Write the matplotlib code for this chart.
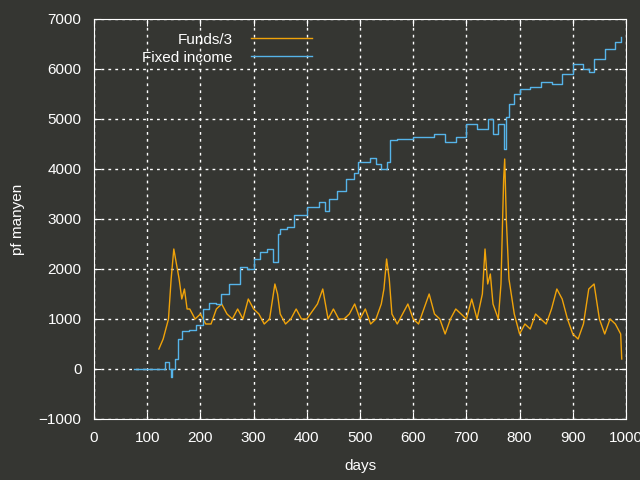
import matplotlib
matplotlib.use("Agg")
import matplotlib.pyplot as plt

fi_days = [75, 122, 133, 141, 144, 147, 152, 157, 166, 179, 191, 204, 216, 229, 238, 254, 274, 287, 300, 312, 325, 337, 345, 350, 362, 375, 400, 422, 435, 441, 457, 473, 488, 497, 519, 530, 540, 550, 556, 570, 600, 620, 640, 660, 680, 700, 720, 740, 750, 760, 770, 775, 780, 790, 800, 820, 840, 860, 880, 900, 920, 930, 940, 960, 980, 990]
fi_vals = [0, 0, 150, 0, -150, 0, 200, 600, 770, 780, 880, 1200, 1320, 1300, 1500, 1700, 2050, 2000, 2200, 2350, 2400, 2140, 2700, 2800, 2850, 3080, 3250, 3350, 3170, 3400, 3560, 3800, 3920, 4140, 4230, 4100, 4000, 4150, 4580, 4600, 4650, 4650, 4700, 4550, 4650, 4900, 4800, 5000, 4700, 4900, 4400, 5050, 5300, 5500, 5600, 5650, 5750, 5700, 5900, 6100, 6000, 5950, 6200, 6400, 6550, 6650]

fd_days = [122, 130, 140, 145, 150, 155, 160, 165, 170, 175, 180, 190, 200, 210, 220, 230, 240, 250, 260, 270, 280, 290, 300, 310, 320, 330, 340, 345, 350, 360, 370, 380, 390, 400, 420, 430, 440, 450, 460, 470, 480, 490, 500, 510, 520, 530, 540, 545, 550, 555, 560, 570, 580, 590, 600, 610, 620, 630, 640, 650, 660, 670, 680, 690, 700, 710, 720, 730, 735, 740, 745, 750, 760, 765, 770, 772, 775, 780, 790, 800, 810, 820, 830, 840, 850, 860, 870, 880, 890, 900, 910, 920, 930, 940, 950, 960, 970, 980, 990, 992]
fd_vals = [400, 600, 1000, 1800, 2400, 2100, 1800, 1400, 1600, 1200, 1200, 1000, 1100, 900, 900, 1200, 1300, 1100, 1000, 1200, 1000, 1400, 1200, 1100, 900, 1000, 1700, 1500, 1100, 900, 1000, 1200, 1000, 1000, 1300, 1600, 1000, 1200, 1000, 1000, 1100, 1300, 1000, 1200, 900, 1000, 1300, 1600, 2200, 1800, 1100, 900, 1100, 1300, 1000, 900, 1200, 1500, 1100, 1000, 700, 1000, 1200, 1100, 1000, 1400, 1000, 1500, 2400, 1700, 1900, 1300, 1000, 1700, 3800, 4200, 3000, 1800, 1100, 700, 900, 800, 1100, 1000, 900, 1200, 1600, 1400, 1000, 700, 600, 900, 1600, 1700, 1000, 700, 1000, 900, 700, 200]

bg = "#353632"
plt.rcParams['font.family'] = ['Liberation Sans', 'DejaVu Sans']
fig = plt.figure(figsize=(6.4, 4.8), dpi=100, facecolor=bg)
ax = fig.add_axes([94/640, 61/480, 532/640, 400/480], facecolor=bg)
ax.plot(fd_days, fd_vals, color="#f0a30a", lw=1.0, label="Funds/3")
ax.plot(fi_days, fi_vals, drawstyle="steps-post", color="#56b4e9", lw=1.0, label="Fixed income")
ax.set_xlim(0, 1000)
ax.set_ylim(-1000, 7000)
ax.set_xticks(range(0, 1001, 100))
ax.set_yticks(range(-1000, 7001, 1000))
ax.grid(True, color="white", linestyle=(0, (2, 3)), lw=1)
for s in ax.spines.values():
    s.set_color("white")
ax.tick_params(colors="white", labelsize=11, direction="in", length=5, top=True, right=True, pad=9)
ax.set_xlabel("days", color="white", fontsize=11, labelpad=10)
ax.set_ylabel("pf manyen", color="white", fontsize=11, labelpad=10)
leg = ax.legend(loc="upper left", bbox_to_anchor=(0.065, 1.0), frameon=False, markerfirst=False,
                fontsize=11, handlelength=4, labelspacing=0.25, handletextpad=1.2)
for t in leg.get_texts():
    t.set_color("white")
    t.set_ha("right")
leg._legend_box.align = "right"
fig.savefig("out.png", dpi=100, facecolor=bg)
